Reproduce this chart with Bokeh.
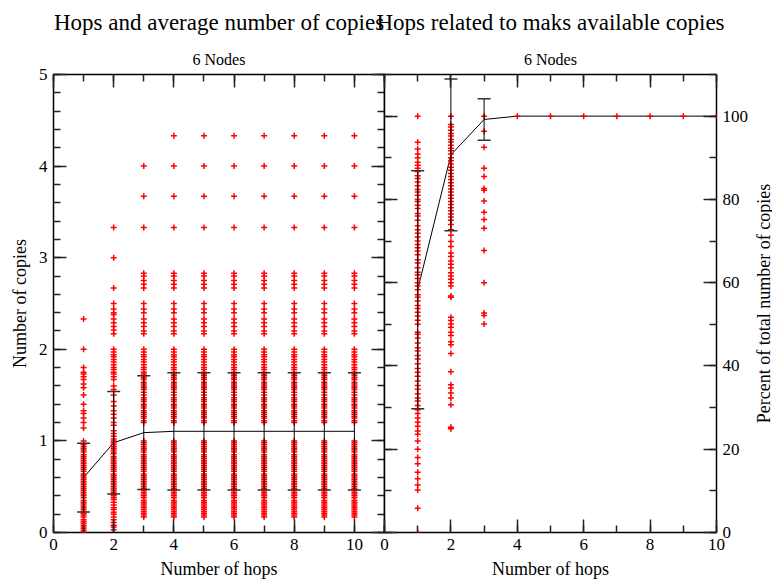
import math

from bokeh.plotting import figure
from bokeh.models import (ColumnDataSource, Range1d, LinearAxis, SingleIntervalTicker,
                          Title, Whisker, TeeHead, Label)
from bokeh.layouts import row
from bokeh.embed import file_html
from bokeh.resources import INLINE

FONT = "Liberation Serif"

hops = [1, 2, 3, 4, 5, 6, 7, 8, 9, 10]

# ---- left panel: number of copies per hop ----
mean_copies = [0.60, 0.98, 1.09, 1.105, 1.105, 1.105, 1.105, 1.105, 1.105, 1.105]
std_copies = [0.375, 0.56, 0.62, 0.64, 0.64, 0.64, 0.64, 0.64, 0.64, 0.64]

copies_hop1 = [0.00, 0.02, 0.04, 0.06, 0.08, 0.10, 0.12, 0.14, 0.17, 0.19, 0.21, 0.23,
               0.25, 0.27, 0.29, 0.31, 0.33, 0.35, 0.38, 0.40, 0.42, 0.44, 0.46, 0.48,
               0.50, 0.52, 0.54, 0.56, 0.58, 0.60, 0.62, 0.64, 0.67, 0.69, 0.71, 0.73,
               0.75, 0.77, 0.79, 0.81, 0.83, 0.85, 0.88, 0.90, 0.92, 0.94, 0.96, 1.00,
               1.14, 1.20, 1.25, 1.30, 1.33, 1.40, 1.50, 1.58, 1.62, 1.67, 1.70, 1.73,
               1.75, 1.80, 2.00, 2.33]

copies_hop2 = [0.03, 0.06, 0.08, 0.11, 0.14, 0.17, 0.20, 0.22, 0.25, 0.27, 0.30, 0.33,
               0.36, 0.38, 0.40, 0.42, 0.44, 0.46, 0.48, 0.50, 0.52, 0.54, 0.56, 0.58,
               0.60, 0.62, 0.64, 0.67, 0.69, 0.71, 0.73, 0.75, 0.77, 0.79, 0.81, 0.83,
               0.86, 0.88, 0.90, 0.92, 0.94, 0.96, 0.98, 1.00, 1.02, 1.05, 1.08, 1.11,
               1.17, 1.20, 1.25, 1.29, 1.33, 1.38, 1.43, 1.50, 1.56, 1.60, 1.67, 1.70,
               1.73, 1.75, 1.78, 1.80, 1.83, 1.86, 1.89, 1.92, 1.94, 1.97, 2.00, 2.17,
               2.21, 2.25, 2.29, 2.33, 2.38, 2.40, 2.44, 2.50, 2.67, 3.00, 3.33]

copies_hop3 = [0.17, 0.19, 0.21, 0.23, 0.25, 0.27, 0.29, 0.31, 0.33, 0.35, 0.38, 0.40,
               0.42, 0.44, 0.46, 0.48, 0.50, 0.52, 0.54, 0.56, 0.58, 0.60, 0.62, 0.64,
               0.67, 0.69, 0.71, 0.73, 0.75, 0.77, 0.79, 0.81, 0.83, 0.85, 0.88, 0.90,
               0.92, 0.94, 0.96, 0.98, 1.00, 1.20, 1.22, 1.25, 1.27, 1.29, 1.31, 1.33,
               1.36, 1.38, 1.40, 1.43, 1.45, 1.47, 1.50, 1.53, 1.56, 1.58, 1.60, 1.62,
               1.64, 1.67, 1.69, 1.71, 1.73, 1.75, 1.78, 1.80, 1.83, 1.86, 1.89, 1.92,
               1.94, 1.97, 2.00, 2.17, 2.20, 2.25, 2.29, 2.33, 2.40, 2.44, 2.50, 2.67,
               2.71, 2.75, 2.80, 2.83, 3.33, 3.67, 4.00]

# hops 4 to 10 share the same set of observed values
copies_hop4_10 = [0.17, 0.19, 0.21, 0.23, 0.25, 0.27, 0.29, 0.31, 0.33, 0.35, 0.38, 0.40,
                  0.42, 0.44, 0.46, 0.48, 0.50, 0.52, 0.54, 0.56, 0.58, 0.60, 0.62, 0.64,
                  0.67, 0.69, 0.71, 0.73, 0.75, 0.77, 0.79, 0.81, 0.83, 0.85, 0.88, 0.90,
                  0.92, 0.94, 0.96, 0.98, 1.00, 1.20, 1.22, 1.25, 1.27, 1.29, 1.31, 1.33,
                  1.36, 1.38, 1.40, 1.43, 1.45, 1.47, 1.50, 1.53, 1.56, 1.58, 1.60, 1.62,
                  1.64, 1.67, 1.69, 1.71, 1.73, 1.75, 1.78, 1.80, 1.83, 1.86, 1.89, 1.92,
                  1.94, 1.97, 2.00, 2.17, 2.20, 2.25, 2.29, 2.33, 2.40, 2.44, 2.50, 2.67,
                  2.71, 2.75, 2.80, 2.83, 3.33, 3.67, 4.00, 4.33]

# ---- right panel: percent of total number of copies per hop ----
mean_pct = [58.3, 90.7, 99.2, 100.0, 100.0, 100.0, 100.0, 100.0, 100.0, 100.0]
std_pct = [28.6, 18.2, 5.0, 0.0, 0.0, 0.0, 0.0, 0.0, 0.0, 0.0]

pct_hop1 = [0.0, 5.8, 10.2, 11.4, 12.9, 14.5, 16.5, 18.0, 20.0, 22.0, 23.6, 24.4, 25.5,
            26.5, 27.5, 28.6, 29.5, 30.5, 31.6, 32.3, 33.3, 34.4, 35.3, 36.4, 37.5, 38.5,
            39.4, 40.5, 41.7, 42.5, 43.6, 44.4, 45.5, 46.7, 47.6, 48.1, 50.0, 51.0, 52.0,
            52.9, 53.8, 54.5, 55.6, 56.5, 57.1, 58.3, 59.2, 60.0, 61.0, 61.9, 62.5, 63.6,
            64.7, 65.5, 66.7, 67.6, 68.4, 69.2, 70.0, 71.0, 71.9, 72.7, 73.7, 75.0, 76.0,
            76.6, 77.8, 78.6, 79.5, 80.0, 81.0, 81.8, 82.4, 83.3, 84.2, 85.0, 85.7, 86.7,
            87.5, 88.2, 88.9, 90.0, 90.9, 92.1, 93.7, 100.0]

pct_hop2 = [24.9, 25.3, 30.7, 32.3, 33.5, 34.7, 35.5, 38.6, 43.0, 45.1, 45.8, 47.3, 48.1,
            49.3, 50.1, 50.9, 51.7, 56.5, 56.8, 59.2, 60.0, 60.8, 61.6, 62.4, 63.6, 64.4,
            65.2, 66.3, 67.1, 68.7, 69.9, 71.4, 72.7, 74.0, 75.0, 75.8, 76.5, 77.3, 78.0,
            78.8, 79.5, 80.3, 81.0, 81.8, 82.5, 83.3, 84.0, 84.8, 85.5, 86.2, 87.0, 87.7,
            88.5, 89.3, 90.0, 90.9, 91.7, 92.3, 93.0, 93.8, 94.4, 95.2, 95.8, 96.6, 97.4,
            98.0, 100.0]

pct_hop3 = [50.1, 52.1, 52.7, 60.0, 67.7, 73.1, 75.2, 76.9, 79.6, 82.2, 82.6, 85.5, 87.5,
            92.5, 96.4, 100.0]

pct_hop4_10 = [100.0]

PCT_TITLE = "Percent of total number of copies"


def expand(per_hop):
    xs, ys = [], []
    for h, vals in zip(hops, per_hop):
        xs.extend([h] * len(vals))
        ys.extend(vals)
    return ColumnDataSource(dict(x=xs, y=ys))


copies_src = expand([copies_hop1, copies_hop2, copies_hop3] + [copies_hop4_10] * 7)
pct_src = expand([pct_hop1, pct_hop2, pct_hop3] + [pct_hop4_10] * 7)


def panel(width, x_end, y_end, border_left, border_right):
    p = figure(width=width, height=581, x_range=Range1d(0, x_end), y_range=Range1d(0, y_end),
               output_backend="svg", toolbar_location=None,
               x_axis_type=None, y_axis_type=None,
               min_border_left=border_left, min_border_right=border_right,
               min_border_top=73, min_border_bottom=45)
    p.title_location = None
    p.outline_line_color = "black"
    p.outline_line_width = 1.5
    p.background_fill_color = "white"
    p.border_fill_color = None
    return p


def add_axis(p, place, ticker, labels=True, label=None):
    ax = LinearAxis(ticker=ticker)
    ax.axis_line_color = None
    ax.major_tick_in = 13
    ax.major_tick_out = 0
    ax.minor_tick_in = 7
    ax.minor_tick_out = 0
    ax.major_tick_line_color = "#222222"
    ax.major_tick_line_width = 1.5
    ax.minor_tick_line_color = "#222222"
    ax.minor_tick_line_width = 1.5
    ax.major_label_text_font = FONT
    ax.major_label_text_font_size = "17px"
    ax.major_label_text_color = "black"
    ax.major_label_standoff = 6
    if not labels:
        # mirrored tick marks only: labels are not painted and take no room
        ax.major_label_text_font_size = "1px"
        ax.major_label_text_color = None
        ax.major_label_standoff = 0
    if label:
        ax.axis_label = label
        ax.axis_label_text_font = FONT
        ax.axis_label_text_font_size = "18px"
        ax.axis_label_text_font_style = "normal"
        ax.axis_label_text_color = "black"
        ax.axis_label_standoff = 6
    p.add_layout(ax, place)
    return ax


def add_titles(p, main):
    p.add_layout(Title(text="6 Nodes", align="center", text_font=FONT,
                       text_font_size="16px", text_font_style="normal",
                       text_color="black", standoff=14), "above")
    p.add_layout(Title(text=main, align="center", text_font=FONT,
                       text_font_size="23px", text_font_style="normal",
                       text_color="black", standoff=14), "above")


def add_series(p, src, means, stds):
    err = ColumnDataSource(dict(
        x=[h for h, s in zip(hops, stds) if s > 0],
        upper=[m + s for m, s in zip(means, stds) if s > 0],
        lower=[m - s for m, s in zip(means, stds) if s > 0],
    ))
    whisk = Whisker(base="x", upper="upper", lower="lower", source=err, dimension="height",
                    line_color="black", line_width=1, level="glyph",
                    upper_head=TeeHead(size=13, line_color="#333333", line_width=1.5),
                    lower_head=TeeHead(size=13, line_color="#333333", line_width=1.5))
    p.add_layout(whisk)
    p.line(hops, means, line_color="black", line_width=1)
    p.scatter("x", "y", source=src, marker="cross", size=6, line_width=1.5,
              line_color="red")


# left panel
p1 = panel(400, 11, 5, 53, 16)
add_axis(p1, "below", SingleIntervalTicker(interval=2, num_minor_ticks=2), label="Number of hops")
add_axis(p1, "left", SingleIntervalTicker(interval=1, num_minor_ticks=5), label="Number of copies")
add_axis(p1, "right", SingleIntervalTicker(interval=1, num_minor_ticks=5), labels=False)
add_axis(p1, "above", SingleIntervalTicker(interval=2, num_minor_ticks=2), labels=False)
add_titles(p1, "Hops and average number of copies")
add_series(p1, copies_src, mean_copies, std_copies)

# right panel
p2 = panel(386, 10, 110, 16, 38)
add_axis(p2, "below", SingleIntervalTicker(interval=2, num_minor_ticks=2), label="Number of hops")
add_axis(p2, "left", SingleIntervalTicker(interval=20, num_minor_ticks=2), labels=False)
add_axis(p2, "right", SingleIntervalTicker(interval=20, num_minor_ticks=2))
add_axis(p2, "above", SingleIntervalTicker(interval=2, num_minor_ticks=2), labels=False)
add_titles(p2, "Hops related to maks available copies")
add_series(p2, pct_src, mean_pct, std_pct)
p2.margin = (0, 0, 0, -32)

# narrow strip holding the right-hand axis title, read from bottom to top
p3 = figure(width=18, height=581, x_range=Range1d(0, 1), y_range=Range1d(0, 110),
            output_backend="svg", toolbar_location=None,
            x_axis_type=None, y_axis_type=None,
            min_border_left=0, min_border_right=0, min_border_top=73, min_border_bottom=45)
p3.title_location = None
p3.outline_line_color = None
p3.background_fill_color = None
p3.border_fill_color = None
p3.add_layout(Label(x=0.5, y=55, text=PCT_TITLE, angle=math.pi / 2, angle_units="rad",
                    text_align="center", text_baseline="middle",
                    text_font=FONT, text_font_size="18px", text_color="black"))

layout = row(p1, p2, p3)
open("out.html", "w").write(file_html(layout, INLINE))
